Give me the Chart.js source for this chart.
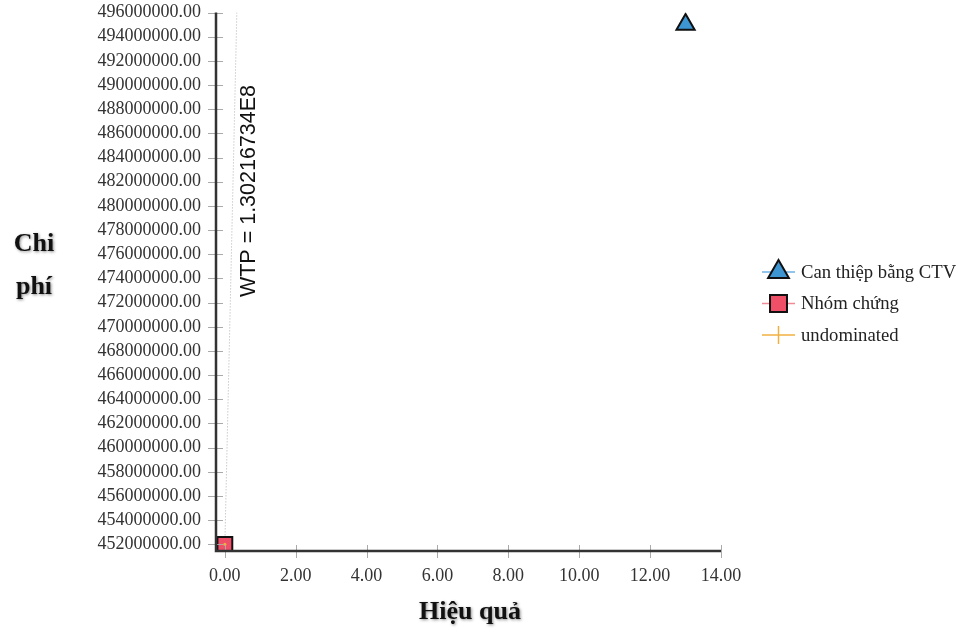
<!DOCTYPE html>
<html>
<head>
<meta charset="utf-8">
<script src="https://cdn.jsdelivr.net/npm/chart.js@4.4.1/dist/chart.umd.min.js"></script>
<style>
  html, body { margin: 0; padding: 0; background: #fff; }
  #wrap { width: 958px; height: 635px; }
</style>
</head>
<body>
<div id="wrap"><canvas id="chart" width="958" height="635"></canvas></div>
<script>
"use strict";
// ========== DATA ========== //
const seriesNames = ["Can thiệp bằng CTV", "Nhóm chứng", "undominated"];
const ctvPoint = [{ x: 13, y: 495000000 }];
const controlPoint = [{ x: 0, y: 452000000 }];
const undominatedPoint = [{ x: 0, y: 452000000 }];
const wtpValue = 1.30216734E8;
const wtpLabel = "WTP = 1.30216734E8";
const xTickValues = [0, 2, 4, 6, 8, 10, 12, 14];
const yTickValues = [452000000, 454000000, 456000000, 458000000, 460000000, 462000000,
  464000000, 466000000, 468000000, 470000000, 472000000, 474000000, 476000000,
  478000000, 480000000, 482000000, 484000000, 486000000, 488000000, 490000000,
  492000000, 494000000, 496000000];
const xTitle = "Hiệu quả";
const yTitleLines = ["Chi", "phí"];

// ========== STYLE ========== //
const serif = "'Liberation Serif', 'Times New Roman', serif";
const colors = {
  ctvFill: "#3d96d2", ctvLine: "#6cb2e4",
  ctlFill: "#ef5068", ctlLine: "#f08a98",
  undom: "#f0b040", wtp: "#b0b0b0", axis: "#333333", tick: "#aaaaaa"
};

// WTP line starts at control point and goes up to the top of the y axis
const wtpLine = [
  { x: controlPoint[0].x, y: controlPoint[0].y },
  { x: controlPoint[0].x + (496000000 - controlPoint[0].y) / wtpValue, y: 496000000 }
];

// draws crossing tick marks, titles, the WTP label and the legend
const decorPlugin = {
  id: "decor",
  afterDraw(chart) {
    const ctx = chart.ctx;
    const xs = chart.scales.x, ys = chart.scales.y;
    const area = chart.chartArea;
    ctx.save();
    // ticks that cross the axis lines
    ctx.strokeStyle = colors.tick;
    ctx.lineWidth = 1;
    for (let v of yTickValues) {
      let py = Math.round(ys.getPixelForValue(v)) + 0.5;
      ctx.beginPath(); ctx.moveTo(area.left - 8, py); ctx.lineTo(area.left + 7, py); ctx.stroke();
    }
    for (let v of xTickValues) {
      let px = Math.round(xs.getPixelForValue(v)) + 0.5;
      ctx.beginPath(); ctx.moveTo(px, area.bottom - 6); ctx.lineTo(px, area.bottom + 7); ctx.stroke();
    }
    // axis lines on top
    ctx.strokeStyle = colors.axis;
    ctx.lineWidth = 2.5;
    ctx.beginPath();
    ctx.moveTo(area.left, area.top);
    ctx.lineTo(area.left, area.bottom);
    ctx.lineTo(area.right, area.bottom);
    ctx.stroke();

    // WTP label, rotated
    ctx.save();
    ctx.translate(xs.getPixelForValue(0) + 24, 191);
    ctx.rotate(-Math.PI / 2);
    ctx.fillStyle = "#111";
    ctx.font = "21.5px 'Liberation Sans', Arial, sans-serif";
    ctx.textAlign = "center";
    ctx.textBaseline = "middle";
    ctx.fillText(wtpLabel, 0, 0);
    ctx.restore();

    // axis titles with a soft shadow
    ctx.save();
    ctx.fillStyle = "#111";
    ctx.font = "bold 26px " + serif;
    ctx.textAlign = "center";
    ctx.textBaseline = "middle";
    ctx.shadowColor = "rgba(0,0,0,0.45)";
    ctx.shadowBlur = 3;
    ctx.shadowOffsetX = 1;
    ctx.shadowOffsetY = 1;
    ctx.fillText(yTitleLines[0], 34, 244);
    ctx.fillText(yTitleLines[1], 34, 287);
    ctx.fillText(xTitle, 470, 612);
    ctx.restore();

    // legend
    const rows = [
      { name: seriesNames[0], line: colors.ctvLine, fill: colors.ctvFill, style: "triangle", r: 12 },
      { name: seriesNames[1], line: colors.ctlLine, fill: colors.ctlFill, style: "rect", r: 12 },
      { name: seriesNames[2], line: colors.undom, fill: colors.undom, style: "cross", r: 0 }
    ];
    ctx.font = "18.7px " + serif;
    ctx.textAlign = "left";
    ctx.textBaseline = "middle";
    rows.forEach((r, i) => {
      let y = 272 + i * 31.5;
      ctx.strokeStyle = r.line;
      ctx.lineWidth = 1.5;
      ctx.beginPath(); ctx.moveTo(762, y); ctx.lineTo(795, y); ctx.stroke();
      if (r.style === "cross") {
        ctx.beginPath(); ctx.moveTo(778.5, y - 9); ctx.lineTo(778.5, y + 9); ctx.stroke();
      } else {
        ctx.lineWidth = 2;
        ctx.strokeStyle = "#111";
        ctx.fillStyle = r.fill;
        Chart.helpers.drawPoint(ctx, { pointStyle: r.style, radius: r.r, borderWidth: 2 }, 778.5, y);
      }
      ctx.fillStyle = "#222";
      ctx.fillText(r.name, 801, y + 1);
    });
    ctx.restore();
  }
};

const chart = new Chart(document.querySelector("#chart"), {
  type: "scatter",
  data: {
    datasets: [
      {
        label: "WTP", data: wtpLine, type: "line", showLine: true,
        borderColor: colors.wtp, borderWidth: 1, borderDash: [1, 2],
        pointRadius: 0, order: 3
      },
      {
        label: seriesNames[1], data: controlPoint, pointStyle: "rect",
        pointRadius: 10.5, pointHoverRadius: 10.5,
        backgroundColor: colors.ctlFill, borderColor: "#111", borderWidth: 2, order: 2
      },
      {
        label: seriesNames[2], data: undominatedPoint, pointStyle: "circle",
        pointRadius: 1.5, backgroundColor: colors.undom, borderColor: colors.undom,
        borderWidth: 0, order: 1
      },
      {
        label: seriesNames[0], data: ctvPoint, pointStyle: "triangle",
        pointRadius: 10.5, pointHoverRadius: 10.5,
        backgroundColor: colors.ctvFill, borderColor: "#111", borderWidth: 2, order: 1
      }
    ]
  },
  options: {
    responsive: false,
    animation: false,
    layout: { padding: { top: 12, right: 237, left: 0, bottom: 0 } },
    plugins: { legend: { display: false }, tooltip: { enabled: false } },
    scales: {
      x: {
        type: "linear", min: -0.25, max: 14,
        afterBuildTicks: (s) => { s.ticks = xTickValues.map(v => ({ value: v })); },
        afterFit: (s) => { s.height = 84; s.paddingLeft = 0; s.paddingRight = 0; },
        grid: { display: false, drawTicks: false },
        border: { display: false },
        ticks: {
          padding: 14, color: "#333", font: { family: serif, size: 18 },
          autoSkip: false, maxRotation: 0,
          callback: (v) => Number(v).toFixed(2)
        }
      },
      y: {
        type: "linear", min: 451450000, max: 496000000,
        afterBuildTicks: (s) => { s.ticks = yTickValues.map(v => ({ value: v })); },
        afterFit: (s) => { s.width = 216; s.paddingTop = 0; s.paddingBottom = 0; },
        grid: { display: false, drawTicks: false },
        border: { display: false },
        ticks: {
          padding: 15, color: "#333", font: { family: serif, size: 18 },
          autoSkip: false,
          callback: (v) => Number(v).toFixed(2)
        }
      }
    }
  },
  plugins: [decorPlugin]
});
</script>
</body>
</html>
